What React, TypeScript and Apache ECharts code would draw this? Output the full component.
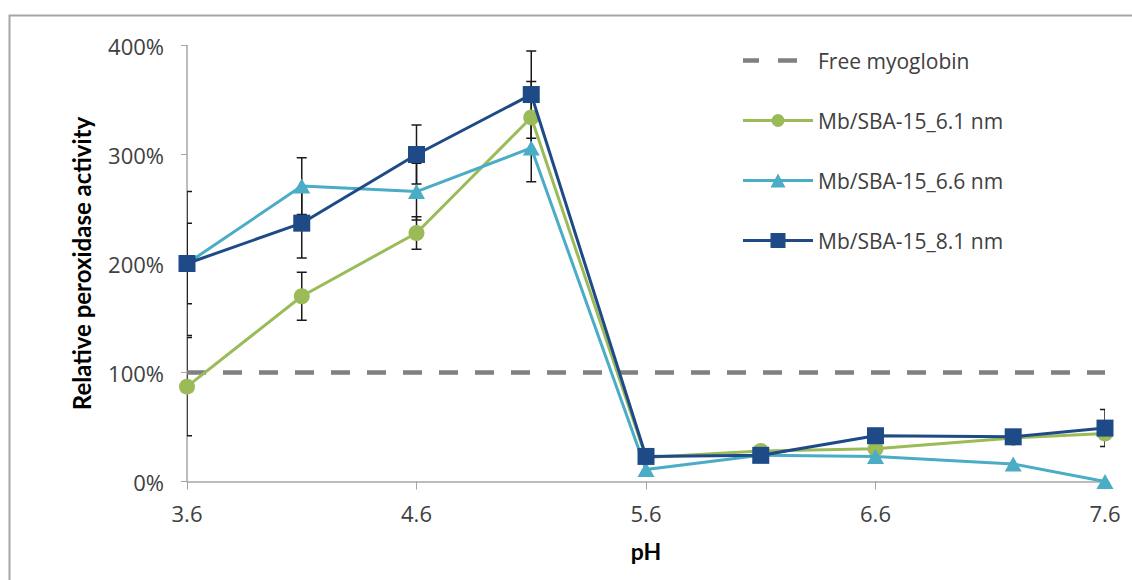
import React, { useEffect, useRef } from "react";
import * as echarts from "echarts";

// pH values of the measurements
const PH = [3.6, 4.1, 4.6, 5.1, 5.6, 6.1, 6.6, 7.2, 7.6];
// x-axis tick labels (pH)
const X_TICKS = [3.6, 4.6, 5.6, 6.6, 7.6];
const X_ORIGIN = 3.6;

// Free myoglobin reference level (%)
const FREE_PH = [3.6, 7.6];
const FREE_VALUES = [100, 100];

// Relative peroxidase activity (%)
const MB61_VALUES = [87, 170, 228, 334, 22, 28, 30, 40, 44];
const MB61_ERR = [45, 22, 15, 33, 0, 0, 0, 0, 0];

const MB66_VALUES = [200, 271, 266, 306, 11, 24, 23, 16, 0];
const MB66_ERR = [37, 26, 26, 31, 0, 0, 0, 0, 0];

const MB81_VALUES = [200, 237, 300, 355, 23, 24, 42, 41, 49];
const MB81_ERR = [66, 32, 27, 40, 0, 0, 0, 0, 17];

const NAMES = [
  "Free myoglobin",
  "Mb/SBA-15_6.1 nm",
  "Mb/SBA-15_6.6 nm",
  "Mb/SBA-15_8.1 nm",
];

const C_GREEN = "#9BBB59";
const C_CYAN = "#4BACC6";
const C_NAVY = "#1F4A88";
const C_FREE = "#808080";
const FONT = "'Open Sans', sans-serif";
const BOLD_FONT = "Lato, sans-serif";

// legend icons, bounding box 70 x 17 (invisible corner points fix the box)
const BOX = "M0,0h0.01v0.01h-0.01zM70,17h-0.01v-0.01h0.01z";
const LINE = "M0,7h70v3h-70z";
const ICON_FREE = "path://" + BOX + "M0,6.25h16v4.5h-16zM35,6.25h19v4.5h-19z";
const ICON_CIRCLE =
  "path://" + BOX + LINE + "M28.5,8.5a6.5,6.5 0 1,1 13,0a6.5,6.5 0 1,1 -13,0z";
const ICON_TRIANGLE = "path://" + BOX + LINE + "M35,1.5L42.5,15.5L27.5,15.5z";
const ICON_SQUARE = "path://" + BOX + LINE + "M27.5,1h15v15h-15z";

const toPairs = (xs: number[], ys: number[]) =>
  xs.map((x, i) => [x - X_ORIGIN, ys[i]]);

const toErr = (xs: number[], ys: number[], es: number[]) =>
  xs
    .map((x, i) => [x - X_ORIGIN, ys[i], es[i]])
    .filter((d) => d[2] > 0);

const errorRender = (params: any, api: any) => {
  const x = api.value(0);
  const y = api.value(1);
  const e = api.value(2);
  const top = api.coord([x, y + e]);
  const bot = api.coord([x, y - e]);
  const hw = 5;
  const style = { stroke: "#1a1a1a", lineWidth: 1.5 };
  return {
    type: "group",
    children: [
      { type: "line", shape: { x1: top[0], y1: top[1], x2: bot[0], y2: bot[1] }, style },
      { type: "line", shape: { x1: top[0] - hw, y1: top[1], x2: top[0] + hw, y2: top[1] }, style },
      { type: "line", shape: { x1: bot[0] - hw, y1: bot[1], x2: bot[0] + hw, y2: bot[1] }, style },
    ],
  };
};

export default function App() {
  const ref = useRef<HTMLDivElement>(null);

  useEffect(() => {
    if (!ref.current) return;
    const chart = echarts.init(ref.current, null, { renderer: "svg" });
    const errSeries = (name: string, ys: number[], es: number[]) => ({
      name: name + " error",
      type: "custom",
      renderItem: errorRender,
      data: toErr(PH, ys, es),
      z: 1,
      clip: true,
      silent: true,
    });
    chart.setOption({
      animation: false,
      backgroundColor: "#ffffff",
      graphic: [
        {
          type: "rect",
          left: 7,
          top: 13,
          shape: { x: 0, y: 0, width: 1200, height: 700 },
          style: { fill: "none", stroke: "#a6a6a6", lineWidth: 2 },
          silent: true,
          z: -10,
        },
      ],
      grid: { left: 187, right: 27, top: 45.5, bottom: 98.5, containLabel: false },
      legend: {
        orient: "vertical",
        left: 743,
        top: 50,
        itemWidth: 70,
        itemHeight: 17,
        itemGap: 39,
        padding: 0,
        data: [
          { name: NAMES[0], icon: ICON_FREE, itemStyle: { color: C_FREE } },
          { name: NAMES[1], icon: ICON_CIRCLE, itemStyle: { color: C_GREEN } },
          { name: NAMES[2], icon: ICON_TRIANGLE, itemStyle: { color: C_CYAN } },
          { name: NAMES[3], icon: ICON_SQUARE, itemStyle: { color: C_NAVY } },
        ],
        textStyle: { fontFamily: FONT, fontSize: 21, color: "#404040" },
      },
      xAxis: {
        type: "value",
        min: 0,
        max: X_TICKS[X_TICKS.length - 1] - X_ORIGIN,
        interval: 1,
        name: "pH",
        nameLocation: "middle",
        nameGap: 58,
        nameTextStyle: { fontFamily: BOLD_FONT, fontWeight: "bold", fontSize: 23, color: "#000" },
        axisLine: { lineStyle: { color: "#a6a6a6", width: 1.5 } },
        axisTick: { show: true, length: 8, lineStyle: { color: "#a6a6a6" } },
        splitLine: { show: false },
        axisLabel: {
          margin: 20,
          fontFamily: FONT,
          fontSize: 22,
          color: "#404040",
          formatter: (v: number) => (v + X_ORIGIN).toFixed(1),
        },
      },
      yAxis: {
        type: "value",
        min: 0,
        max: 400,
        interval: 100,
        name: "Relative peroxidase activity",
        nameLocation: "middle",
        nameGap: 94,
        nameTextStyle: { fontFamily: BOLD_FONT, fontWeight: "bold", fontSize: 24, color: "#000" },
        axisLine: { show: true, lineStyle: { color: "#a6a6a6", width: 1.5 } },
        axisTick: { show: true, length: 6, lineStyle: { color: "#a6a6a6" } },
        splitLine: { show: false },
        axisLabel: {
          margin: 23,
          fontFamily: FONT,
          fontSize: 22,
          color: "#404040",
          formatter: (v: number) => v + "%",
        },
      },
      series: [
        {
          name: NAMES[0],
          type: "line",
          data: toPairs(FREE_PH, FREE_VALUES),
          symbol: "none",
          lineStyle: { color: C_FREE, width: 4.5, type: [19, 17] },
          itemStyle: { color: C_FREE },
          z: 2,
        },
        errSeries(NAMES[1], MB61_VALUES, MB61_ERR),
        errSeries(NAMES[2], MB66_VALUES, MB66_ERR),
        errSeries(NAMES[3], MB81_VALUES, MB81_ERR),
        {
          name: NAMES[1],
          type: "line",
          data: toPairs(PH, MB61_VALUES),
          symbol: "circle",
          symbolSize: 16,
          lineStyle: { color: C_GREEN, width: 3 },
          itemStyle: { color: C_GREEN },
          z: 3,
        },
        {
          name: NAMES[2],
          type: "line",
          data: toPairs(PH, MB66_VALUES),
          symbol: "triangle",
          symbolSize: [17, 15],
          lineStyle: { color: C_CYAN, width: 3 },
          itemStyle: { color: C_CYAN },
          z: 4,
        },
        {
          name: NAMES[3],
          type: "line",
          data: toPairs(PH, MB81_VALUES),
          symbol: "rect",
          symbolSize: 17,
          lineStyle: { color: C_NAVY, width: 3 },
          itemStyle: { color: C_NAVY },
          z: 5,
        },
      ],
    });
    return () => chart.dispose();
  }, []);

  return (
    <div
      ref={ref}
      style={{ position: "fixed", left: 0, top: 0, width: 1132, height: 580, background: "#fff" }}
    />
  );
}
